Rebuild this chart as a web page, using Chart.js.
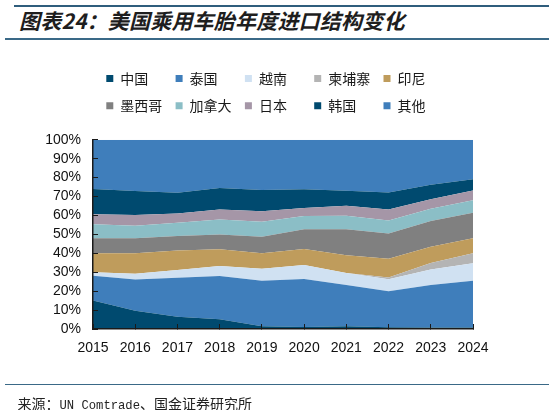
<!DOCTYPE html>
<html>
<head>
<meta charset="utf-8">
<script src="https://cdn.jsdelivr.net/npm/chart.js@4.4.1/dist/chart.umd.min.js"></script>
<style>
html,body{margin:0;padding:0;background:#fff;}
#wrap{position:relative;width:549px;height:410px;overflow:hidden;background:#fff;}
#c{position:absolute;left:0;top:0;}
.topline{position:absolute;left:14px;right:0;top:5px;height:1.5px;background:#2f5d7c;}
.title{position:absolute;left:19px;top:10.3px;font-family:"Noto Sans CJK SC";font-weight:700;font-style:italic;font-size:21px;line-height:21px;color:#1e1e1e;white-space:nowrap;letter-spacing:0.2px;}
.subline{position:absolute;left:5px;right:0;top:37.5px;height:2px;background:#3a6987;}
.botline{position:absolute;left:5px;right:0;top:383.5px;height:1.5px;background:#3a6987;}
.src{position:absolute;left:17.5px;top:395px;line-height:16px;white-space:nowrap;color:#222;font-family:"Noto Sans CJK SC";font-size:14px;}
.src .lat{font-family:"Liberation Mono";font-size:12.2px;}
</style>
</head>
<body>
<div id="wrap">
  <div class="topline"></div>
  <div class="title">图表24：美国乘用车胎年度进口结构变化</div>
  <div class="subline"></div>
  <canvas id="c" width="549" height="410" style="width:549px;height:410px;"></canvas>
  <div class="botline"></div>
  <div class="src">来源：<span class="lat">UN Comtrade</span>、国金证券研究所</div>
</div>
<script>
// ---- data (share of US passenger-car tyre imports, %) ----
const years = ['2015','2016','2017','2018','2019','2020','2021','2022','2023','2024'];
const seriesNames = ['中国','泰国','越南','柬埔寨','印尼','墨西哥','加拿大','日本','韩国','其他'];
const china     = [15.0, 9.7, 6.5, 5.1, 1.4, 1.0, 1.4, 0.9, 0.8, 0.8];
const thailand  = [13.2,16.5,20.6,22.9,24.1,25.4,21.8,19.1,22.4,24.7];
const vietnam   = [ 1.8, 3.0, 4.1, 5.3, 6.4, 7.4, 6.4, 6.3, 8.3, 9.2];
const cambodia  = [ 0.0, 0.0, 0.0, 0.0, 0.0, 0.0, 0.0, 0.9, 3.4, 5.3];
const indonesia = [10.0,10.8,10.3, 8.8, 8.1, 8.5, 9.4, 9.9, 8.6, 8.0];
const mexico    = [ 7.9, 7.9, 7.6, 7.9, 8.8,10.4,13.7,13.4,13.6,13.4];
const canada    = [ 7.4, 6.7, 7.1, 7.9, 7.9, 7.0, 7.2, 6.9, 6.4, 6.7];
const japan     = [ 5.3, 5.6, 4.9, 5.3, 5.5, 4.3, 5.3, 5.7, 5.1, 5.1];
const korea     = [13.4,12.7,10.9,11.3,11.3, 9.8, 7.9, 9.1, 7.7, 5.9];
const others    = [26.0,27.1,28.0,25.5,26.5,26.2,26.9,27.8,23.7,20.9];
const yTicks = [0,10,20,30,40,50,60,70,80,90,100];

const seriesValues = [china,thailand,vietnam,cambodia,indonesia,mexico,canada,japan,korea,others];
const seriesColors = ['#004a6f','#3f7ebb','#d0e1f2','#b4b4b4','#bf9c5c','#808080','#8bbec6','#a596a7','#004a6f','#3f7ebb'];

const LEGEND_GAP = 17;
const legendGap = {
  id: 'legendGap',
  beforeLayout(chart) {
    const lg = chart.legend;
    if (lg && !lg._gapPatched) {
      const fit = lg.fit;
      lg.fit = function () { fit.call(this); this.height += LEGEND_GAP; };
      lg._gapPatched = true;
    }
  }
};

const datasets = seriesNames.map((name, i) => ({
  label: name,
  data: seriesValues[i],
  backgroundColor: seriesColors[i],
  borderColor: seriesColors[i],
  borderWidth: 0,
  pointRadius: 0,
  pointHoverRadius: 0,
  tension: 0,
  fill: i === 0 ? 'origin' : '-1'
}));

new Chart(document.getElementById('c'), {
  type: 'line',
  data: { labels: years, datasets },
  plugins: [legendGap],
  options: {
    responsive: false,
    animation: false,
    layout: { padding: { top: 58.2, left: 40, right: 76, bottom: 51 } },
    plugins: {
      tooltip: { enabled: false },
      legend: {
        position: 'top',
        fullSize: false,
        align: 'start',
        labels: {
          boxWidth: 7,
          boxHeight: 7,
          padding: 13.3,
          color: '#1a1a1a',
          font: { family: '"Noto Sans CJK SC"', size: 14 },
          generateLabels(chart) {
            const items = Chart.defaults.plugins.legend.labels.generateLabels(chart);
            items.forEach(it => {
              if (it.text.length < 3) it.text = it.text + '\u3000';
              it.lineWidth = 0;
            });
            return items;
          }
        }
      }
    },
    scales: {
      x: {
        type: 'category',
        offset: false,
        afterFit(s) { s.height = 30; },
        grid: { display: true, drawOnChartArea: false, drawTicks: true, tickLength: -5, color: '#1a1a1a', lineWidth: 1, z: 1 },
        border: { display: true, color: '#1a1a1a', width: 1.5, z: 1 },
        ticks: { color: '#111', padding: 15.3, maxRotation: 0, autoSkip: false, font: { family: '"Liberation Sans"', size: 14 } }
      },
      y: {
        stacked: true,
        min: 0,
        max: 100,
        afterFit(s) { s.width = 53; },
        afterBuildTicks(s) { s.ticks = yTicks.map(v => ({ value: v })); },
        grid: { display: true, drawOnChartArea: false, drawTicks: true, tickLength: -5, color: '#1a1a1a', lineWidth: 1, z: 1 },
        border: { display: true, color: '#1a1a1a', width: 1.5, z: 1 },
        ticks: { color: '#111', padding: 17, autoSkip: false, stepSize: 10, font: { family: '"Liberation Sans"', size: 14 }, callback: v => v + '%' }
      }
    }
  }
});
</script>
</body>
</html>
